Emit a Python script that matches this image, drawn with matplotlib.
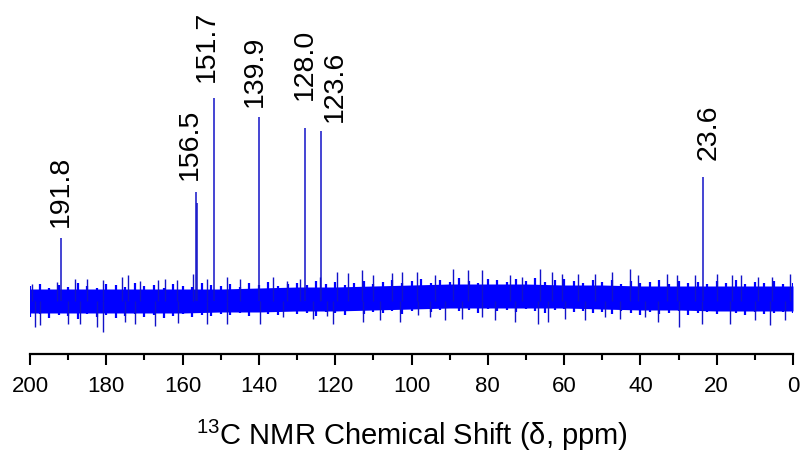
import numpy as np
import matplotlib
matplotlib.use("Agg")
import matplotlib.pyplot as plt

plt.rcParams['font.family'] = ['Liberation Sans', 'DejaVu Sans']
plt.rcParams['mathtext.fontset'] = 'custom'
plt.rcParams['mathtext.rm'] = 'Liberation Sans'
plt.rcParams['mathtext.it'] = 'Liberation Sans:italic'

# ---- data (intensity in arbitrary units, baseline = 0) ----
peak_ppm = [191.8, 156.5, 156.3, 151.7, 139.9, 128.0, 123.6, 23.6]
peak_height = [63, 109, 98, 203, 184, 173, 170, 124]

label_values = [191.8, 156.5, 151.7, 139.9, 128.0, 123.6, 23.6]
label_text = ["191.8", "156.5", "151.7", "139.9", "128.0", "123.6", "23.6"]

# solid core of the noise band, every 10 ppm from 200 down to 0
core_upper = [12, 12, 12, 12, 12, 12, 13, 14, 14, 15, 16,
              17, 17, 17, 16, 16, 15, 15, 15, 15, 15]
core_lower = [-12, -12, -12, -12, -12, -11, -11, -10, -10, -9, -8,
              -7, -7, -7, -7, -8, -9, -9, -10, -10, -10]
core_ppm = np.linspace(200, 0, len(core_upper))

# ragged edge of the noise band, every 2.5 ppm from 200 down to 0
env_upper = [15, 17, 13, 16, 14, 18, 15, 13, 17, 16, 14, 18, 15, 16, 13, 17, 15, 14, 18, 16, 15,
             17, 14, 18, 16, 19, 15, 17, 18, 16, 20, 17, 19, 16, 18, 20, 17, 19, 21, 18,
             20, 22, 18, 21, 19, 23, 20, 18, 22, 21, 19, 22, 20, 23, 19, 21, 22, 20, 18, 21,
             19, 21, 17, 20, 18, 19, 21, 17, 20, 18, 19, 17, 20, 18, 21, 17, 19, 18, 20, 17, 18]
env_lower = [-16, -13, -17, -14, -15, -18, -13, -16, -14, -17, -15, -13, -16, -14, -17, -15, -13, -16, -14, -15, -13,
             -14, -12, -15, -11, -13, -14, -10, -13, -12, -15, -11, -12, -14, -10, -13, -11, -12, -10, -13,
             -10, -8, -11, -9, -7, -10, -9, -12, -8, -10, -9, -11, -8, -10, -12, -9, -8, -11, -10, -12,
             -11, -13, -10, -12, -14, -11, -13, -12, -10, -14, -12, -11, -13, -10, -12, -14, -11, -13, -12, -11, -12]
env_ppm = np.linspace(200, 0, len(env_upper))

# individual taller noise spikes
up_ppm = [199.6, 193.0, 188.2, 185.1, 180.8, 176.0, 174.2, 171.2, 166.4, 164.6,
          161.5, 157.2, 153.7, 148.4, 145.0, 136.3, 132.7, 129.2, 124.0, 119.6,
          116.6, 113.1, 110.1, 105.2, 102.6, 98.6, 93.8, 89.0, 85.1, 81.6,
          74.2, 71.1, 66.3, 63.3, 60.6, 56.3, 51.9, 47.5, 42.7, 40.5,
          33.1, 30.5, 25.7, 20.0, 16.1, 13.5, 9.1, 5.6, 0.8]
up_h = [17, 19, 22, 22, 21, 24, 26, 20, 21, 22,
        21, 27, 22, 24, 22, 24, 20, 22, 24, 29,
        28, 31, 26, 28, 29, 29, 26, 32, 31, 31,
        26, 24, 32, 29, 27, 27, 27, 29, 32, 26,
        27, 26, 26, 27, 26, 26, 24, 24, 27]
down_ppm = [198.7, 197.4, 190.0, 186.9, 182.5, 180.8, 175.1, 172.5, 167.2, 161.1,
            153.7, 148.4, 139.7, 133.7, 125.8, 122.2, 120.6, 112.7, 108.3, 103.0,
            98.2, 95.1, 91.2, 86.8, 81.6, 78.1, 72.9, 66.8, 64.1, 59.8,
            54.5, 49.3, 45.3, 38.8, 35.3, 30.0, 23.9, 16.5, 10.0, 6.0, 2.1]
down_h = [-26, -24, -23, -23, -26, -31, -21, -23, -25, -22,
          -23, -23, -23, -16, -18, -15, -23, -21, -19, -21,
          -14, -16, -19, -18, -16, -19, -21, -23, -21, -18,
          -19, -16, -18, -16, -21, -26, -23, -23, -19, -24, -19]

x_ticks = [200, 180, 160, 140, 120, 100, 80, 60, 40, 20, 0]
x_label = r'$^{\mathregular{13}}$C NMR Chemical Shift (δ, ppm)'

# ---- layout / style ----
W, H = 801, 457
fig = plt.figure(figsize=(W / 100, H / 100), dpi=100)
ax_left, ax_right, ax_bottom_px, ax_top_px = 30, 793, 354, 5
ax = fig.add_axes([ax_left / W, (H - ax_bottom_px) / H,
                   (ax_right - ax_left) / W, (ax_bottom_px - ax_top_px) / H])
base_px = 301
ax.set_xlim(200, 0)
ax.set_ylim(base_px - ax_bottom_px, base_px - ax_top_px)

blue = '#0000ff'
line_blue = '#1212c8'

ax.fill_between(core_ppm, core_lower, core_upper, color=blue, lw=0)
ax.vlines(env_ppm, 0, env_upper, color=blue, lw=1.6)
ax.vlines(env_ppm, env_lower, 0, color=blue, lw=1.6)
ax.vlines(up_ppm, 0, up_h, color=line_blue, lw=1.0)
ax.vlines(down_ppm, down_h, 0, color=line_blue, lw=1.0)
ax.vlines(peak_ppm, 0, peak_height, color=line_blue, lw=1.1)

# label placement (ppm offset, bottom of text in data units)
label_dx = [0.1, 1.7, 1.9, 1.1, 0.0, -3.5, -1.6]
label_y = [74, 121, 219, 194, 201, 179, 141]
for v, t, dx, y in zip(label_values, label_text, label_dx, label_y):
    ax.text(v + dx, y, t, rotation=90, ha='center', va='bottom',
            fontsize=20.5, color='black')

for s in ['left', 'right', 'top']:
    ax.spines[s].set_visible(False)
ax.spines['bottom'].set_linewidth(1.6)
ax.set_yticks([])
ax.set_xticks(x_ticks)
ax.set_xticks(np.arange(190, 0, -20), minor=True)
ax.tick_params(axis='x', which='major', direction='out', length=8, width=1.5,
               labelsize=16, pad=8)
ax.tick_params(axis='x', which='minor', direction='out', length=4.5, width=1.5)
ax.set_xlabel(x_label, fontsize=21, labelpad=15)

fig.savefig('out.png', dpi=100)
